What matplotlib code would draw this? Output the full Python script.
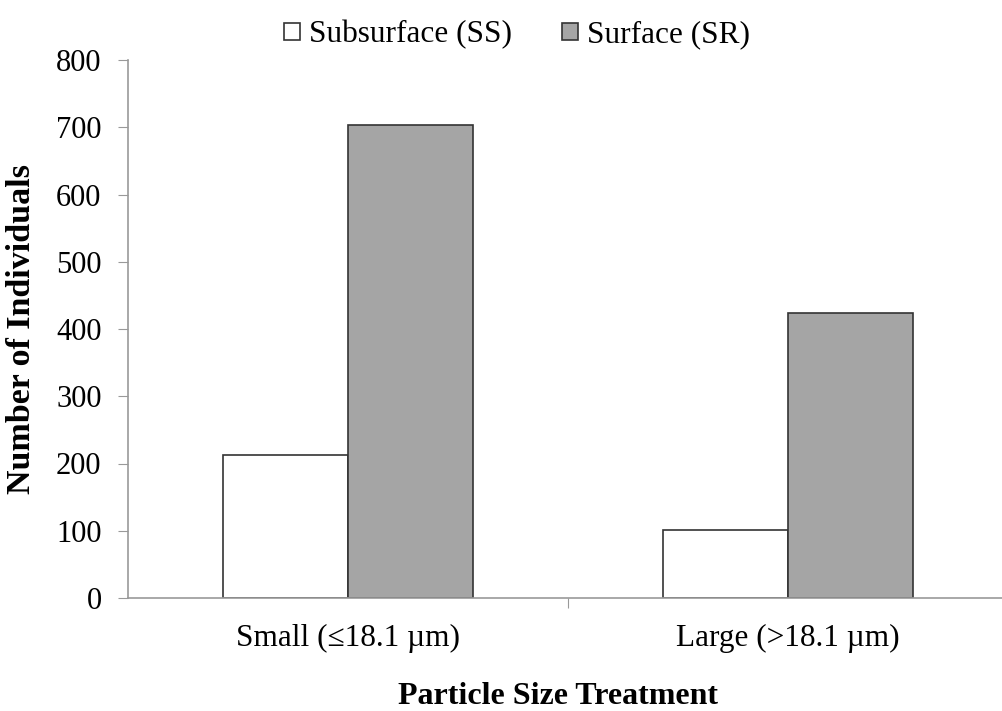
import matplotlib.pyplot as plt
import numpy as np

plt.rcParams['font.family'] = ['Liberation Serif', 'DejaVu Serif']

categories = ['Small (≤18.1 µm)', 'Large (>18.1 µm)']
subsurface = [212, 101]
surface = [704, 424]
series_labels = ['Subsurface (SS)', 'Surface (SR)']
yticks = [0, 100, 200, 300, 400, 500, 600, 700, 800]

fig = plt.figure(figsize=(10.02, 7.11), dpi=100)
ax = fig.add_axes([128 / 1002, 113 / 711, 880 / 1002, 538 / 711])

x = np.arange(len(categories))
w = 0.284
ax.bar(x - w / 2, subsurface, w, color='white', edgecolor='#333333', linewidth=1.2,
       label=series_labels[0])
ax.bar(x + w / 2, surface, w, color='#a5a5a5', edgecolor='#333333', linewidth=1.2,
       label=series_labels[1])

ax.set_xlim(-0.5, 1.5)
ax.set_ylim(0, 800)
ax.set_yticks(yticks)
ax.tick_params(axis='y', labelsize=22, length=7, color='#999999', direction='out', pad=12)

# category labels centred, tick mark between categories
ax.set_xticks([0.5])
ax.set_xticklabels([''])
ax.tick_params(axis='x', length=7, color='#999999', direction='out')
for xi, lab in zip(x, categories):
    ax.text(xi, -38, lab, ha='center', va='top', fontsize=22.5)

for s in ['top', 'right']:
    ax.spines[s].set_visible(False)
for s in ['left', 'bottom']:
    ax.spines[s].set_color('#999999')
    ax.spines[s].set_linewidth(1.2)

ax.set_ylabel('Number of Individuals', fontsize=24.5, fontweight='bold')
ax.yaxis.set_label_coords(-(128 - 37) / 880, 0.5)
fig.text(558 / 1002, 1 - 697 / 711, 'Particle Size Treatment', ha='center', va='center',
         fontsize=23, fontweight='bold')

fig.legend(loc='center', bbox_to_anchor=(517 / 1002, 1 - 35 / 711), ncol=2, frameon=False,
           fontsize=22.5, handlelength=0.5, handleheight=0.5, handletextpad=0.3,
           columnspacing=1.6)

fig.savefig('out.png', dpi=100)
